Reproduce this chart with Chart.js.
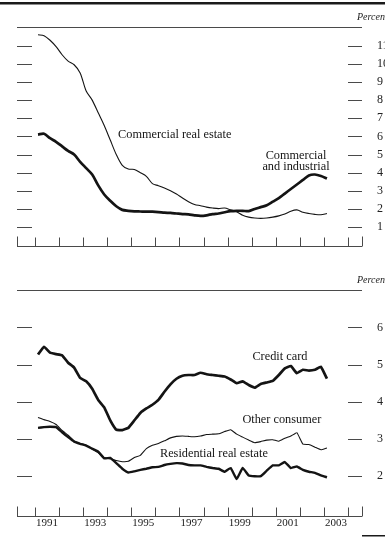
<!DOCTYPE html>
<html>
<head>
<meta charset="utf-8">
<script src="https://cdn.jsdelivr.net/npm/chart.js@4/dist/chart.umd.min.js"></script>
<style>
  html, body { margin: 0; padding: 0; background: #fff; overflow: hidden; }
  #wrap { position: relative; width: 385px; height: 538px; }
  canvas { position: absolute; left: 0; }
  #topPanel { top: 0; }
  #bottomPanel { top: 268px; }
</style>
</head>
<body>
<div id="wrap">
  <canvas id="topPanel" width="385" height="268"></canvas>
  <canvas id="bottomPanel" width="385" height="270"></canvas>
</div>
<script>
// Quarterly observations, 1991:Q1 to 2003:Q1
const quarters = [
  '1991Q1','1991Q2','1991Q3','1991Q4','1992Q1','1992Q2','1992Q3','1992Q4',
  '1993Q1','1993Q2','1993Q3','1993Q4','1994Q1','1994Q2','1994Q3','1994Q4',
  '1995Q1','1995Q2','1995Q3','1995Q4','1996Q1','1996Q2','1996Q3','1996Q4',
  '1997Q1','1997Q2','1997Q3','1997Q4','1998Q1','1998Q2','1998Q3','1998Q4',
  '1999Q1','1999Q2','1999Q3','1999Q4','2000Q1','2000Q2','2000Q3','2000Q4',
  '2001Q1','2001Q2','2001Q3','2001Q4','2002Q1','2002Q2','2002Q3','2002Q4',
  '2003Q1'
];

// Delinquency rates, percent
const commercialRealEstate = [
  11.6, 11.55, 11.3, 10.95, 10.5, 10.15, 9.95, 9.5,
  8.5, 8.0, 7.3, 6.6, 5.8, 5.0, 4.4, 4.2,
  4.18, 4.0, 3.8, 3.4, 3.28, 3.15, 3.0, 2.82,
  2.6, 2.4, 2.25, 2.18, 2.1, 2.05, 2.02, 2.05,
  1.95, 1.85, 1.65, 1.55, 1.5, 1.48, 1.5, 1.55,
  1.62, 1.72, 1.88, 1.95, 1.82, 1.75, 1.7, 1.68,
  1.75
];
const commercialIndustrial = [
  6.1, 6.15, 5.9, 5.7, 5.45, 5.2, 5.0, 4.6,
  4.25, 3.9, 3.3, 2.8, 2.45, 2.15, 1.95, 1.9,
  1.87, 1.86, 1.85, 1.85, 1.83, 1.8, 1.78, 1.75,
  1.72, 1.7, 1.65, 1.62, 1.65, 1.72, 1.75, 1.82,
  1.88, 1.9, 1.9, 1.88, 2.0, 2.1, 2.2, 2.4,
  2.6, 2.85, 3.1, 3.35, 3.6, 3.85, 3.9, 3.82,
  3.68
];
const creditCard = [
  5.27, 5.48, 5.32, 5.28, 5.25, 5.05, 4.92, 4.64,
  4.55, 4.35, 4.05, 3.85, 3.5, 3.25, 3.24, 3.3,
  3.5, 3.7, 3.82, 3.92, 4.05, 4.27, 4.47, 4.62,
  4.7, 4.72, 4.72, 4.78, 4.74, 4.72, 4.7, 4.68,
  4.6, 4.5, 4.55, 4.45, 4.38, 4.48, 4.52, 4.56,
  4.72, 4.9, 4.96, 4.77, 4.86, 4.84, 4.86, 4.94,
  4.62
];
const otherConsumer = [
  3.58, 3.52, 3.47, 3.39, 3.23, 3.1, 2.95, 2.88,
  2.83, 2.73, 2.63, 2.5, 2.47, 2.42, 2.39, 2.4,
  2.5, 2.56, 2.74, 2.83, 2.88, 2.95, 3.03, 3.07,
  3.08, 3.07, 3.06, 3.08, 3.12, 3.13, 3.14, 3.2,
  3.25, 3.13, 3.05, 2.97, 2.9, 2.93, 2.97, 2.98,
  2.94, 3.02, 3.08, 3.17, 2.86, 2.85, 2.78, 2.71,
  2.76
];
const residentialRealEstate = [
  3.3, 3.32, 3.33, 3.32, 3.18, 3.05, 2.93, 2.87,
  2.82, 2.74, 2.66, 2.48, 2.49, 2.35, 2.2, 2.1,
  2.13, 2.17, 2.2, 2.24, 2.25, 2.3, 2.33, 2.35,
  2.34, 2.3, 2.29, 2.29, 2.25, 2.22, 2.2, 2.12,
  2.22, 1.92, 2.22, 2.02, 2.0, 2.0, 2.15, 2.29,
  2.29, 2.38, 2.22, 2.26, 2.17, 2.12, 2.09, 2.02,
  1.97
];

// Axis ticks
const yearMarks = ['1991','1992','1993','1994','1995','1996','1997','1998','1999','2000','2001','2002','2003','2004'];
const yearLabels = ['1991','1993','1995','1997','1999','2001','2003'];
const topTicks = ['1','2','3','4','5','6','7','8','9','10','11'];
const bottomTicks = ['2','3','4','5','6'];

const INK = '#141414';
const RULE = '#4a4a4a';
const SERIF = '"Liberation Serif", "DejaVu Serif", serif';

// A quarter is plotted at the middle of its span within the year
function quarterPos(q) {
  const yr = Number(q.slice(0, 4));
  const n = Number(q.slice(5));
  return yr + (n - 0.5) / 4;
}
function points(values) {
  return values.map((v, i) => ({ x: quarterPos(quarters[i]), y: v }));
}

// Rules, inner tick marks and inline series labels
const framePlugin = {
  id: 'frame',
  afterDraw(chart, args, opts) {
    const { ctx, chartArea: a } = chart;
    const xs = chart.scales.x, ys = chart.scales.y;
    ctx.save();
    ctx.strokeStyle = RULE;
    ctx.lineWidth = 1;
    ctx.beginPath();
    const top = Math.round(a.top) + 0.5, bot = Math.round(a.bottom) + 0.5;
    ctx.moveTo(a.left, top); ctx.lineTo(a.right, top);
    ctx.moveTo(a.left, bot); ctx.lineTo(a.right, bot);
    opts.valueTicks.forEach(t => {
      const py = Math.round(ys.getPixelForValue(Number(t))) + 0.5;
      ctx.moveTo(a.left, py); ctx.lineTo(a.left + 15, py);
      ctx.moveTo(a.right - 14, py); ctx.lineTo(a.right, py);
    });
    yearMarks.forEach(t => {
      const px = Math.round(xs.getPixelForValue(Number(t))) + 0.5;
      ctx.moveTo(px, bot); ctx.lineTo(px, bot - 9);
    });
    [Math.round(a.left) + 0.5, Math.round(a.right) + 0.5].forEach(px => {
      ctx.moveTo(px, bot); ctx.lineTo(px, bot - 10);
    });
    ctx.stroke();

    if (opts.headRule) {
      ctx.fillStyle = '#1a1a1a';
      ctx.fillRect(0, 2, chart.width, 2.5);
    }
    if (opts.footRule) {
      ctx.fillStyle = '#1a1a1a';
      ctx.fillRect(a.right, chart.height - 3, chart.width - a.right, 1.5);
    }

    ctx.fillStyle = '#222';
    ctx.textBaseline = 'middle';
    ctx.textAlign = 'left';
    ctx.font = 'italic 10px ' + SERIF;
    ctx.fillText('Percent', a.right - 5, a.top - 10);

    ctx.fillStyle = INK;
    ctx.font = '12.3px ' + SERIF;
    opts.notes.forEach(n => {
      ctx.textAlign = n.align;
      ctx.fillText(n.text, xs.getPixelForValue(n.year), ys.getPixelForValue(n.value));
    });
    ctx.restore();
  }
};

function line(values, width) {
  return {
    data: points(values),
    borderColor: INK,
    borderWidth: width,
    pointRadius: 0,
    fill: false
  };
}

function makePanel(canvasId, cfg) {
  return new Chart(document.getElementById(canvasId), {
    type: 'line',
    data: { datasets: cfg.datasets },
    options: {
      responsive: false,
      animation: false,
      events: [],
      layout: { padding: { top: cfg.padTop, left: 17, right: 0, bottom: 0 } },
      scales: {
        x: {
          type: 'linear',
          min: 1990.2525,
          max: 2004.58,
          grid: { display: false, drawTicks: false },
          border: { display: false },
          afterBuildTicks: s => { s.ticks = yearLabels.map(l => ({ value: Number(l) })); },
          afterFit: s => { s.height = cfg.axisHeight; },
          ticks: {
            display: cfg.showYears,
            labelOffset: 12,
            padding: 1,
            maxRotation: 0,
            autoSkip: false,
            color: '#222',
            font: { family: SERIF, size: 11 },
            callback: v => yearLabels.find(l => Number(l) === v) || ''
          }
        },
        y: {
          position: 'right',
          min: cfg.yMin,
          max: cfg.yMax,
          grid: { display: false, drawTicks: false },
          border: { display: false },
          afterBuildTicks: s => { s.ticks = cfg.valueTicks.map(l => ({ value: Number(l) })); },
          afterFit: s => { s.width = 23; },
          ticks: {
            padding: 15,
            color: '#222',
            font: { family: SERIF, size: 12 },
            callback: v => cfg.valueTicks.find(l => Number(l) === v) || ''
          }
        }
      },
      plugins: {
        legend: { display: false },
        tooltip: { enabled: false },
        frame: {
          valueTicks: cfg.valueTicks,
          notes: cfg.notes,
          headRule: cfg.headRule,
          footRule: cfg.footRule
        }
      }
    },
    plugins: [framePlugin]
  });
}

makePanel('topPanel', {
  padTop: 27, axisHeight: 6, showYears: false,
  yMin: -0.03, yMax: 12.03, valueTicks: topTicks,
  headRule: true, footRule: false,
  datasets: [
    Object.assign(line(commercialRealEstate, 1.1), { tension: 0.3 }),
    Object.assign(line(commercialIndustrial, 2.7), { tension: 0.3 })
  ],
  notes: [
    { text: 'Commercial real estate', year: 1994.45, value: 6.08, align: 'left' },
    { text: 'Commercial', year: 2001.84, value: 4.95, align: 'center' },
    { text: 'and industrial', year: 2001.84, value: 4.3, align: 'center' }
  ]
});

makePanel('bottomPanel', {
  padTop: 19, axisHeight: 17, showYears: true,
  yMin: 0.935, yMax: 7.0, valueTicks: bottomTicks,
  headRule: false, footRule: true,
  datasets: [
    Object.assign(line(creditCard, 2.7), { tension: 0.1 }),
    Object.assign(line(otherConsumer, 1.1), { tension: 0.1 }),
    Object.assign(line(residentialRealEstate, 2.4), { tension: 0.1 })
  ],
  notes: [
    { text: 'Credit card', year: 2001.17, value: 5.22, align: 'center' },
    { text: 'Other consumer', year: 2001.25, value: 3.53, align: 'center' },
    { text: 'Residential real estate', year: 1998.43, value: 2.6, align: 'center' }
  ]
});
</script>
</body>
</html>
